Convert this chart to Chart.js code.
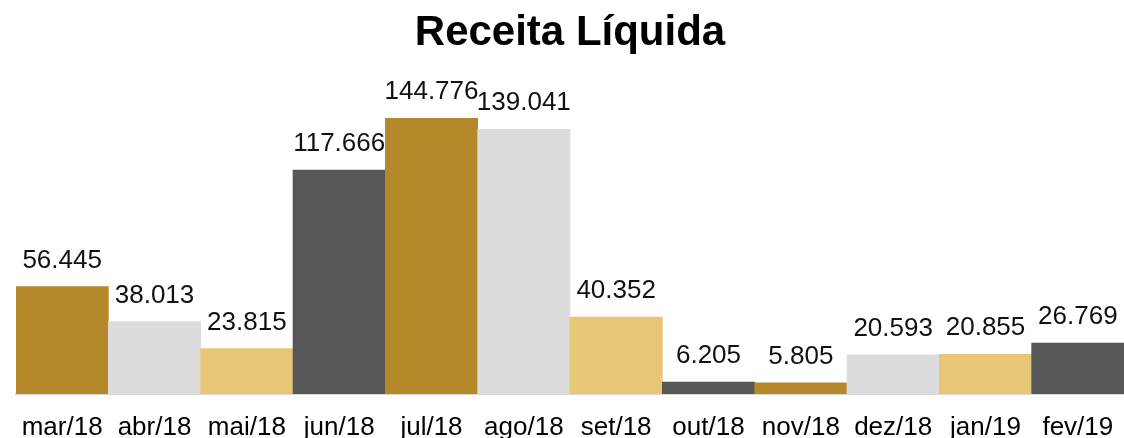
<!DOCTYPE html>
<html>
<head>
<meta charset="utf-8">
<title>Receita Líquida</title>
<script src="https://cdn.jsdelivr.net/npm/chart.js@4"></script>
<style>
  html, body { margin: 0; padding: 0; background: #fff; }
  #wrap { width: 1124px; height: 438px; position: relative; }
</style>
</head>
<body>
<div id="wrap"><canvas id="chart"></canvas></div>
<script>
const months = ["mar/18", "abr/18", "mai/18", "jun/18", "jul/18", "ago/18",
  "set/18", "out/18", "nov/18", "dez/18", "jan/19", "fev/19"];
const receita = [56445, 38013, 23815, 117666, 144776, 139041,
  40352, 6205, 5805, 20593, 20855, 26769];
const palette = ["#B5892A", "#DCDCDC", "#E8C677", "#575757"];

// thousands with a dot, like 56.445
const fmt = v => String(v).replace(/\B(?=(\d{3})+(?!\d))/g, ".");

// draw the value above each bar
const valueLabels = {
  id: "valueLabels",
  afterDatasetsDraw(chart) {
    const ctx = chart.ctx;
    ctx.save();
    ctx.font = "26px 'Liberation Sans', Arial, sans-serif";
    ctx.fillStyle = "#111";
    ctx.textAlign = "center";
    ctx.textBaseline = "alphabetic";
    chart.getDatasetMeta(0).data.forEach((bar, i) => {
      ctx.fillText(fmt(receita[i]), bar.x, bar.y - 19);
    });
    ctx.restore();
  }
};

new Chart(document.getElementById("chart"), {
  type: "bar",
  data: {
    labels: months,
    datasets: [{
      data: receita,
      backgroundColor: months.map((m, i) => palette[i % 4]),
      borderWidth: 0,
      categoryPercentage: 1,
      barPercentage: 1
    }]
  },
  options: {
    responsive: true,
    maintainAspectRatio: false,
    animation: false,
    layout: { padding: { left: 16, right: 0, top: 0, bottom: 0 } },
    plugins: {
      legend: { display: false },
      tooltip: { enabled: false },
      title: {
        display: true,
        text: "Receita Líquida",
        color: "#000",
        font: { family: "'Liberation Sans', Arial, sans-serif", size: 42, weight: "bold" },
        padding: { top: 8, bottom: 31 }
      }
    },
    scales: {
      x: {
        grid: { display: false, drawTicks: false },
        border: { display: true, color: "#D9D9D9", width: 2 },
        ticks: {
          color: "#000",
          padding: 18,
          maxRotation: 0,
          autoSkip: false,
          font: { family: "'Liberation Sans', Arial, sans-serif", size: 26 }
        },
        afterFit(scale) {
          scale.height = 44;
          scale.paddingLeft = 0;
          scale.paddingRight = 0;
        }
      },
      y: {
        display: false,
        min: 0,
        max: 160000
      }
    }
  },
  plugins: [valueLabels]
});
</script>
</body>
</html>
